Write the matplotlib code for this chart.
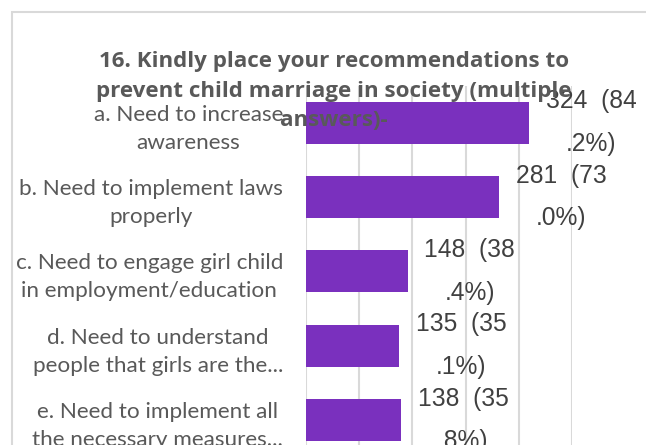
import matplotlib
matplotlib.use("Agg")
import matplotlib.pyplot as plt
from matplotlib.patches import Rectangle
import numpy as np

categories = [
    "a. Need to increase\nawareness",
    "b. Need to implement laws\nproperly",
    "c. Need to engage girl child\nin employment/education",
    "d. Need to understand\npeople that girls are the...",
    "e. Need to implement all\nthe necessary measures...",
]
counts = [324, 281, 148, 135, 138]
percents = [84.2, 73.0, 38.4, 35.1, 35.8]
title = "16. Kindly place your recommendations to\nprevent child marriage in society (multiple\nanswers)-"

W, H = 646, 445
fig = plt.figure(figsize=(W / 100, H / 100), dpi=100)

# chart-area border (cropped at right/bottom)
fig.patches.append(Rectangle((12 / W, -0.2), 2.0, 1.2 - 12 / H, transform=fig.transFigure,
                             fill=False, edgecolor="#D9D9D9", linewidth=1.5, zorder=0))

left, right = 306 / W, 572 / W
top, bottom = 1 - 85.5 / H, 1 - 457 / H
ax = fig.add_axes([left, bottom, right - left, top - bottom])
ax.set_facecolor("none")

y = np.arange(len(categories))
bars = ax.barh(y, counts, height=0.565, color="#7A30BE", zorder=2)
ax.set_ylim(len(categories) - 0.5, -0.5)
ax.set_xlim(0, 386.5)
ax.set_xticks(np.linspace(0, 386.5, 6))
ax.xaxis.grid(True, color="#D9D9D9", linewidth=1.5, zorder=0)
ax.set_axisbelow(True)
ax.tick_params(axis="x", which="both", length=0, labelbottom=False)
ax.tick_params(axis="y", length=0, pad=16.5)
for s in ax.spines.values():
    s.set_visible(False)

ax.set_yticks(y)
ax.set_yticklabels(categories, fontsize=16.2, color="#595959", family="Lato",
                   linespacing=1.5, multialignment="center")

for yi, c, p in zip(y, counts, percents):
    s = f"{c}  ({p:.1f}%)"
    a, b = s.split(".")
    ax.annotate(a + "\n." + b, xy=(c, yi), xytext=(44.6, 0), textcoords="offset points",
                ha="center", va="center", fontsize=17.7, color="#404040",
                family="Liberation Sans", linespacing=1.98, zorder=3,
                annotation_clip=False)

fig.text(334 / W, 1 - 91 / H, title, ha="center", va="center", fontsize=16.1,
         fontweight="bold", color="#595959", family="Open Sans", linespacing=1.55, zorder=5)

fig.savefig("out.png", dpi=100)
